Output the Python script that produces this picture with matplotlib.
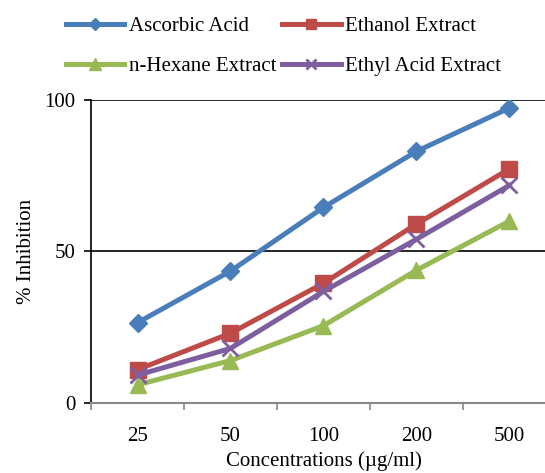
import matplotlib
matplotlib.use("Agg")
import matplotlib.pyplot as plt

plt.rcParams['font.family'] = ['Liberation Serif', 'DejaVu Serif']

concentrations = ['25', '50', '100', '200', '500']
ascorbic = [26.5, 43.5, 64.5, 83, 97.3]
ethanol = [11, 23, 39.5, 59, 77.2]
hexane = [6, 14, 25.5, 43.8, 60]
ethyl = [9.2, 18, 36.8, 54, 71.8]

series = [
    ('Ascorbic Acid', ascorbic, '#4a7ebb', 'D', 9),
    ('Ethanol Extract', ethanol, '#be4b48', 's', 11),
    ('n-Hexane Extract', hexane, '#98b954', '^', 12),
    ('Ethyl Acid Extract', ethyl, '#7d5fa0', 'x', 11),
]

fig = plt.figure(figsize=(5.45, 4.73), dpi=100)
ax = fig.add_axes([0.167, 0.148, 0.853, 0.641])

x = list(range(len(concentrations)))
handles = []
for name, vals, color, marker, ms in series:
    kw = dict(markeredgewidth=2) if marker == 'x' else dict(markeredgecolor=color)
    h, = ax.plot(x, vals, color=color, linewidth=3.6, marker=marker,
                 markersize=ms, markerfacecolor=color, label=name, zorder=3, **kw)
    handles.append(h)

ax.set_xlim(-0.5, 4.5)
ax.set_ylim(0, 100)
ax.set_yticks([0, 50, 100])
ax.set_xticks(x)
ax.set_xticklabels(concentrations)
ax.set_xticks([i - 0.5 for i in range(6)], minor=True)
ax.tick_params(axis='x', which='major', length=0, labelsize=15, pad=17)
ax.tick_params(axis='x', which='minor', length=5, color='#888888', width=1.2)
ax.tick_params(axis='y', length=5, width=1.2, labelsize=15, pad=6)

for yv in [50, 100]:
    ax.axhline(yv, color='black', linewidth=1.2, zorder=1)

ax.spines['top'].set_visible(False)
ax.spines['right'].set_visible(False)
ax.spines['left'].set_linewidth(1.2)
ax.spines['bottom'].set_color('#888888')
ax.spines['bottom'].set_linewidth(1.5)

ax.set_xlabel('Concentrations (\u00b5g/ml)', fontsize=15, labelpad=4)
ax.set_ylabel('% Inhibition', fontsize=15, labelpad=6)

# matplotlib fills legend columns first, so reorder to get row-wise layout
order = [0, 2, 1, 3]
fig.legend(handles=[handles[i] for i in order], loc='upper center', ncol=2,
           frameon=False, bbox_to_anchor=(0.52, 1.005), fontsize=15,
           handlelength=2.8, columnspacing=0.3, handletextpad=0.2,
           labelspacing=1.0, markerscale=0.7)

fig.savefig('out.png', dpi=100)
